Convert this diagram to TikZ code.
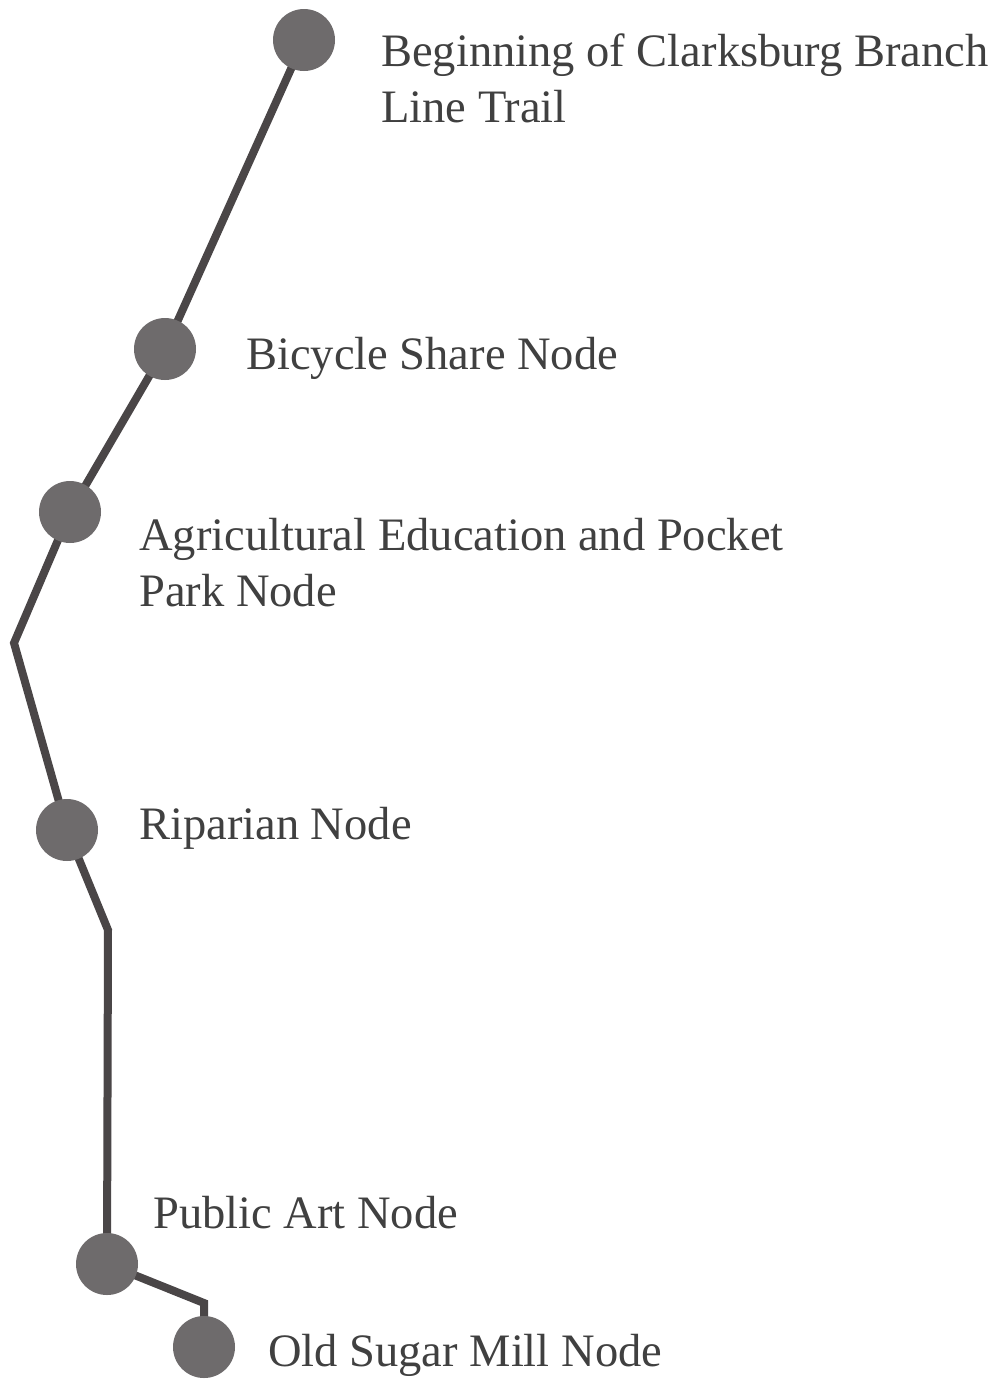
\documentclass[tikz,border=0pt]{standalone}
\usepackage{fontspec}
\setmainfont{Liberation Serif}
\usetikzlibrary{backgrounds}
\definecolor{trailline}{HTML}{4A4647}
\definecolor{stopfill}{HTML}{6E6B6C}
\definecolor{labeltext}{HTML}{404040}
\begin{document}
\begin{tikzpicture}[x=1pt,y=-1pt,
  stop/.style={circle,fill=stopfill,inner sep=0,minimum size=62pt},
  trail/.style={draw=trailline,line width=8pt,line join=miter},
  lbl/.style={anchor=base west,inner sep=0,text=labeltext,align=left,
    font=\fontsize{46.5}{56}\selectfont}]
\useasboundingbox (0,0) rectangle (1008,1379);
% stops
\node[stop] (s1) at (304,40) {};
\node[stop] (s2) at (165,349) {};
\node[stop] (s3) at (70,512) {};
\node[stop] (s4) at (67,830) {};
\node[stop] (s5) at (107,1264) {};
\node[stop] (s6) at (204,1347) {};
% bends
\coordinate (b1) at (14,643);
\coordinate (b2) at (108,930);
\coordinate (b3) at (204,1303);
\begin{scope}[on background layer]
\fill[white] (0,0) rectangle (1008,1379);
\draw[trail] (s1.center) -- (s2.center) -- (s3.center) -- (b1) -- (s4.center)
  -- (b2) -- (s5.center) -- (b3) -- (s6.center);
\end{scope}
% labels
\node[lbl] (l1) at (381,122) {Beginning of Clarksburg Branch\\Line Trail};
\node[lbl] (l2) at (246,369) {Bicycle Share Node};
\node[lbl] (l3) at (139,606) {Agricultural Education and Pocket\\Park Node};
\node[lbl] (l4) at (139,839) {Riparian Node};
\node[lbl] (l5) at (153,1228) {Public Art Node};
\node[lbl] (l6) at (268,1366) {Old Sugar Mill Node};
\end{tikzpicture}
\end{document}
